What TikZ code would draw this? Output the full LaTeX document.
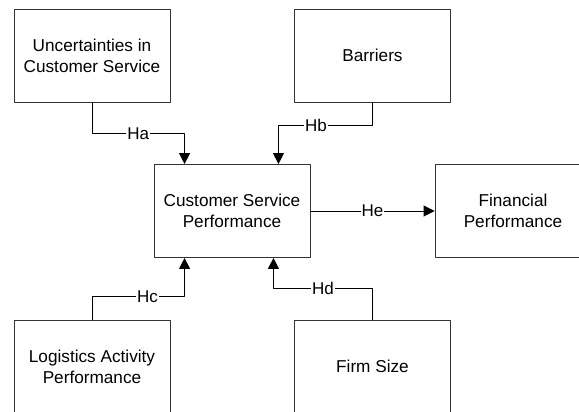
\documentclass[tikz,border=0pt]{standalone}
\usepackage{fontspec}
\setmainfont{Liberation Sans}
\usetikzlibrary{arrows}
\usetikzlibrary{arrows.meta}

\begin{document}
\begin{tikzpicture}[line cap=round,line join=round,>={Triangle[length=11pt,width=11pt]},x=1.0pt,y=1.0pt,
    box/.style={draw=black!80,line width=0.9pt,minimum width=156pt,minimum height=93pt,inner sep=0pt,align=center,font=\fontsize{17.2}{21}\selectfont},
    hyp/.style={fill=white,inner sep=1pt,font=\fontsize{17}{18}\selectfont},
    link/.style={->,line width=0.9pt}]
        \useasboundingbox (0,0) rectangle (579,412);
        \clip (0,0) rectangle (579,412);
        % the six constructs
        \node[box] (ucs) at (92,356.5) {Uncertainties in\\Customer Service};
        \node[box] (bar) at (372.5,356.5) {Barriers};
        \node[box] (csp) at (232,201) {Customer Service\\Performance};
        \node[box] (fin) at (513,201) {Financial\\Performance};
        \node[box] (lap) at (92,45.5) {Logistics Activity\\Performance};
        \node[box] (fsz) at (372.5,45.5) {Firm Size};
        % hypotheses
        \draw[link] (ucs.south) -- ++(0,-31) -| node[hyp,pos=0.25] {Ha} ([xshift=31pt]csp.north west);
        \draw[link] (bar.south) -- ++(0,-23) -| node[hyp,pos=0.3] {Hb} ([xshift=-32pt]csp.north east);
        \draw[link] (lap.north) -- ++(0,23) -| node[hyp,pos=0.3] {Hc} ([xshift=31pt]csp.south west);
        \draw[link] (fsz.north) -- ++(0,31) -| node[hyp,pos=0.25] {Hd} ([xshift=-37pt]csp.south east);
        \draw[link] (csp.east) -- node[hyp] {He} (fin.west);
      \end{tikzpicture}
\end{document}
